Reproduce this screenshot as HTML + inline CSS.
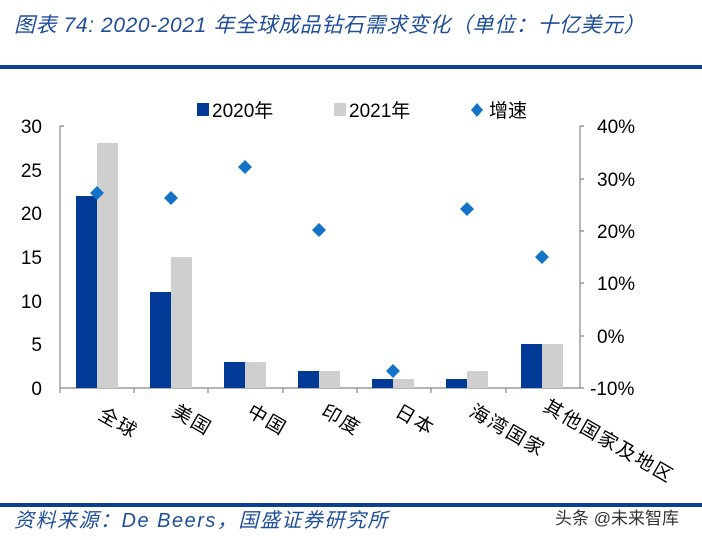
<html><head><style>body{margin:0;background:#fff;width:702px;height:540px;overflow:hidden}</style></head><body>
<svg width="702" height="540" xmlns="http://www.w3.org/2000/svg" font-family="Liberation Sans, Noto Sans CJK SC, sans-serif">
<text x="14" y="32" font-size="21" font-style="italic" fill="#1f4e9a" letter-spacing="0.6">图表 74:  2020-2021 年全球成品钻石需求变化（单位：十亿美元）</text>
<rect x="0" y="65" width="702" height="4" fill="#0b3f8f"/>
<rect x="0" y="503" width="702" height="4" fill="#0b3f8f"/>
<text x="14" y="527" font-size="20" font-style="italic" fill="#1f4e9a" letter-spacing="1.5">资料来源：De Beers，国盛证券研究所</text>
<text x="555" y="524" font-size="17" fill="#333">头条 @未来智库</text>
<!-- legend -->
<rect x="197" y="103" width="12" height="13" fill="#003a96"/><text x="212" y="117" font-size="19" fill="#000">2020年</text>
<rect x="334" y="103" width="12" height="13" fill="#cfcfcf"/><text x="349" y="117" font-size="19" fill="#000">2021年</text>
<path d="M477 103l6 7-6 7-6-7z" fill="#1273c8"/><text x="489" y="117" font-size="19" fill="#000">增速</text>
<!-- axes -->
<g stroke="#888" stroke-width="1.2" fill="none">
<path d="M64 126h-4v262h520v-262h4"/>
<path d="M60 388v5M134 388v5M208 388v5M283 388v5M357 388v5M431 388v5M506 388v5"/>
<path d="M580 179h4M580 231h4M580 283h4M580 336h4M580 388h4"/>
</g>
<g font-size="19" fill="#000" text-anchor="end">
<text x="42" y="133">30</text><text x="42" y="177">25</text><text x="42" y="220">20</text><text x="42" y="264">15</text><text x="42" y="308">10</text><text x="42" y="351">5</text><text x="42" y="395">0</text>
</g>
<g font-size="19" fill="#000">
<text x="597" y="133">40%</text><text x="597" y="186">30%</text><text x="597" y="238">20%</text><text x="597" y="290">10%</text><text x="597" y="343">0%</text><text x="590" y="395">-10%</text>
</g>
<!-- bars -->
<g fill="#003a96">
<rect x="76" y="196" width="21" height="192"/>
<rect x="150" y="292" width="21" height="96"/>
<rect x="224" y="362" width="21" height="26"/>
<rect x="298" y="371" width="21" height="17"/>
<rect x="372" y="379" width="21" height="9"/>
<rect x="446" y="379" width="21" height="9"/>
<rect x="521" y="344" width="21" height="44"/>
</g>
<g fill="#cfcfcf">
<rect x="97" y="143" width="21" height="245"/>
<rect x="171" y="257" width="21" height="131"/>
<rect x="245" y="362" width="21" height="26"/>
<rect x="319" y="371" width="21" height="17"/>
<rect x="393" y="379" width="21" height="9"/>
<rect x="467" y="371" width="21" height="17"/>
<rect x="542" y="344" width="21" height="44"/>
</g>
<g fill="#1273c8">
<path d="M97 186l7 7-7 7-7-7z"/>
<path d="M171 191l7 7-7 7-7-7z"/>
<path d="M245 160l7 7-7 7-7-7z"/>
<path d="M319 223l7 7-7 7-7-7z"/>
<path d="M393 364l7 7-7 7-7-7z"/>
<path d="M467 202l7 7-7 7-7-7z"/>
<path d="M542 250l7 7-7 7-7-7z"/>
</g>
<g font-size="19" fill="#000" letter-spacing="2">
<text transform="translate(97,418) rotate(30)">全球</text>
<text transform="translate(171,415) rotate(30)">美国</text>
<text transform="translate(246,415) rotate(30)">中国</text>
<text transform="translate(320,415) rotate(30)">印度</text>
<text transform="translate(394,415) rotate(30)">日本</text>
<text transform="translate(468,415) rotate(30)">海湾国家</text>
<text transform="translate(542,410) rotate(30)">其他国家及地区</text>
</g>
</svg>
</body></html>
